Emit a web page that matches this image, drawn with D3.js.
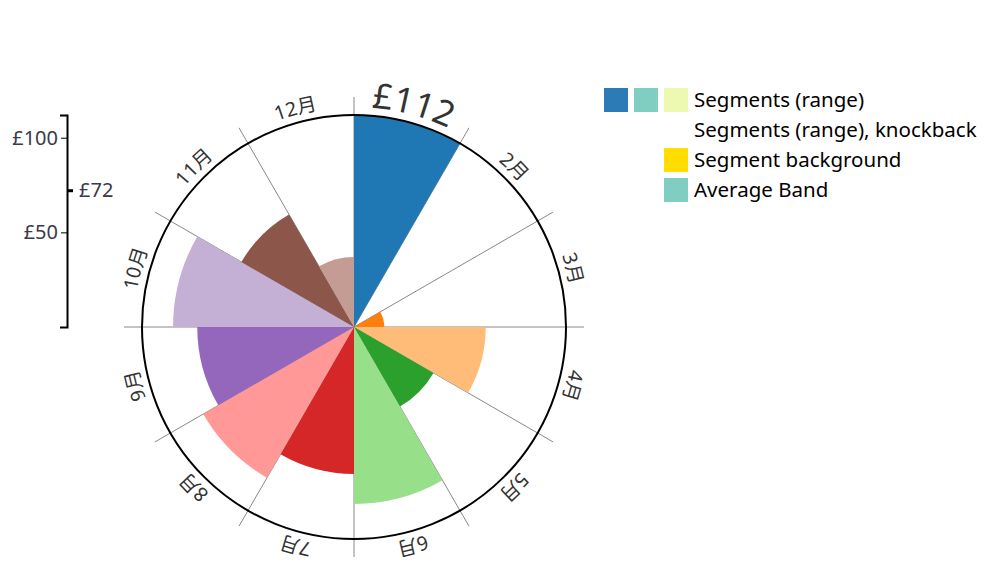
<!DOCTYPE html>
<html>
<head>
<meta charset="utf-8">
<script src="https://cdn.jsdelivr.net/npm/d3@7"></script>
<style>
  html, body { margin: 0; padding: 0; background: #fff; }
  svg { display: block; font-family: "Noto Sans", "Noto Sans CJK JP", sans-serif; }
</style>
</head>
<body>
<svg id="chart" width="996" height="575"></svg>
<script>
// ---- data ----
const months = ["1月","2月","3月","4月","5月","6月","7月","8月","9月","10月","11月","12月"];
const values = [112, null, 16, 69.6, 48.5, 93.5, 77.7, 92, 82.8, 95.6, 68.7, 37];
const segmentColors = ["#1f77b4","#aec7e8","#ff7f0e","#ffbb78","#2ca02c","#98df8a",
                       "#d62728","#ff9896","#9467bd","#c5b0d5","#8c564b","#c49c94"];
const axisTickValues = [50, 100];
const averageValue = 72;
const highlightedIndex = 0;
const legendRows = ["Segments (range)", "Segments (range), knockback", "Segment background", "Average Band"];
const legendSwatches = [["#2c7bb6","#80cdc1","#edf8b1"], [], ["#ffdd00"], ["#80cdc1"]];

// ---- layout ----
const svg = d3.select("#chart");
const cx = 354, cy = 327;
const outerR = 212, gridR = 230, labelR = 220;
const maxV = d3.max(values);
const r = d3.scaleLinear().domain([0, maxV]).range([0, outerR]);
const angle = d3.scaleLinear().domain([0, months.length]).range([0, 2 * Math.PI]);

const g = svg.append("g").attr("transform", `translate(${cx},${cy})`);

// grid lines
g.append("g").selectAll("line").data(months).join("line")
  .attr("x1", 0).attr("y1", 0)
  .attr("x2", (d, i) => gridR * Math.sin(angle(i)))
  .attr("y2", (d, i) => -gridR * Math.cos(angle(i)))
  .attr("stroke", "#888").attr("stroke-width", 1);

// segments
const arc = d3.arc().innerRadius(0);
g.append("g").selectAll("path").data(values.map((v, i) => ({v, i})).filter(d => d.v != null)).join("path")
  .attr("d", d => arc({outerRadius: r(d.v), startAngle: angle(d.i), endAngle: angle(d.i + 1)}))
  .attr("fill", d => segmentColors[d.i]);

// outer circle
g.append("circle").attr("r", r(maxV)).attr("fill", "none").attr("stroke", "#000").attr("stroke-width", 2);

// labels along arcs
const defs = svg.append("defs");
months.forEach((m, i) => {
  const a0 = angle(i), a1 = angle(i + 1);
  const x0 = labelR * Math.sin(a0), y0 = -labelR * Math.cos(a0);
  const x1 = labelR * Math.sin(a1), y1 = -labelR * Math.cos(a1);
  defs.append("path").attr("id", "lp" + i)
    .attr("d", `M${x0},${y0}A${labelR},${labelR} 0 0 1 ${x1},${y1}`);
  const hl = i === highlightedIndex;
  g.append("text")
    .attr("font-size", hl ? 35 : 19.5)
    .attr("fill", "#333")
    .append("textPath")
    .attr("href", "#lp" + i)
    .attr("startOffset", "50%")
    .attr("text-anchor", "middle")
    .text(hl ? "£" + values[i] : m);
});

// left axis
const y = d3.scaleLinear().domain([0, maxV]).range([cy, cy - outerR]);
const axisX = 67;
const ax = svg.append("g").attr("transform", `translate(${axisX},0)`)
  .call(d3.axisLeft(y).tickValues(axisTickValues).tickFormat(d => "£" + d).tickSize(6).tickSizeOuter(7));
ax.select(".domain").attr("stroke", "#000").attr("stroke-width", 2);
ax.selectAll(".tick line").attr("stroke", "#000");
ax.selectAll(".tick text").attr("font-size", 20).attr("fill", "#3a3a4a").attr("font-family", "Noto Sans");
// average marker
svg.append("line").attr("x1", axisX).attr("x2", axisX + 6)
  .attr("y1", y(averageValue)).attr("y2", y(averageValue))
  .attr("stroke", "#000").attr("stroke-width", 3);
svg.append("text").attr("x", axisX + 12).attr("y", y(averageValue)).attr("dy", "0.32em")
  .attr("font-size", 20).attr("fill", "#3a3a4a").text("£" + averageValue);

// legend
const lg = svg.append("g");
legendRows.forEach((t, i) => {
  const yy = 100 + i * 30;
  const sw = legendSwatches[i];
  sw.forEach((c, j) => {
    lg.append("rect").attr("x", 688 - 24 - (sw.length - 1 - j) * 30).attr("y", yy - 12)
      .attr("width", 24).attr("height", 24).attr("fill", c);
  });
  lg.append("text").attr("x", 694).attr("y", yy).attr("dy", "0.35em")
    .attr("font-size", 20.5).attr("fill", "#000").text(t);
});
</script>
</body>
</html>
